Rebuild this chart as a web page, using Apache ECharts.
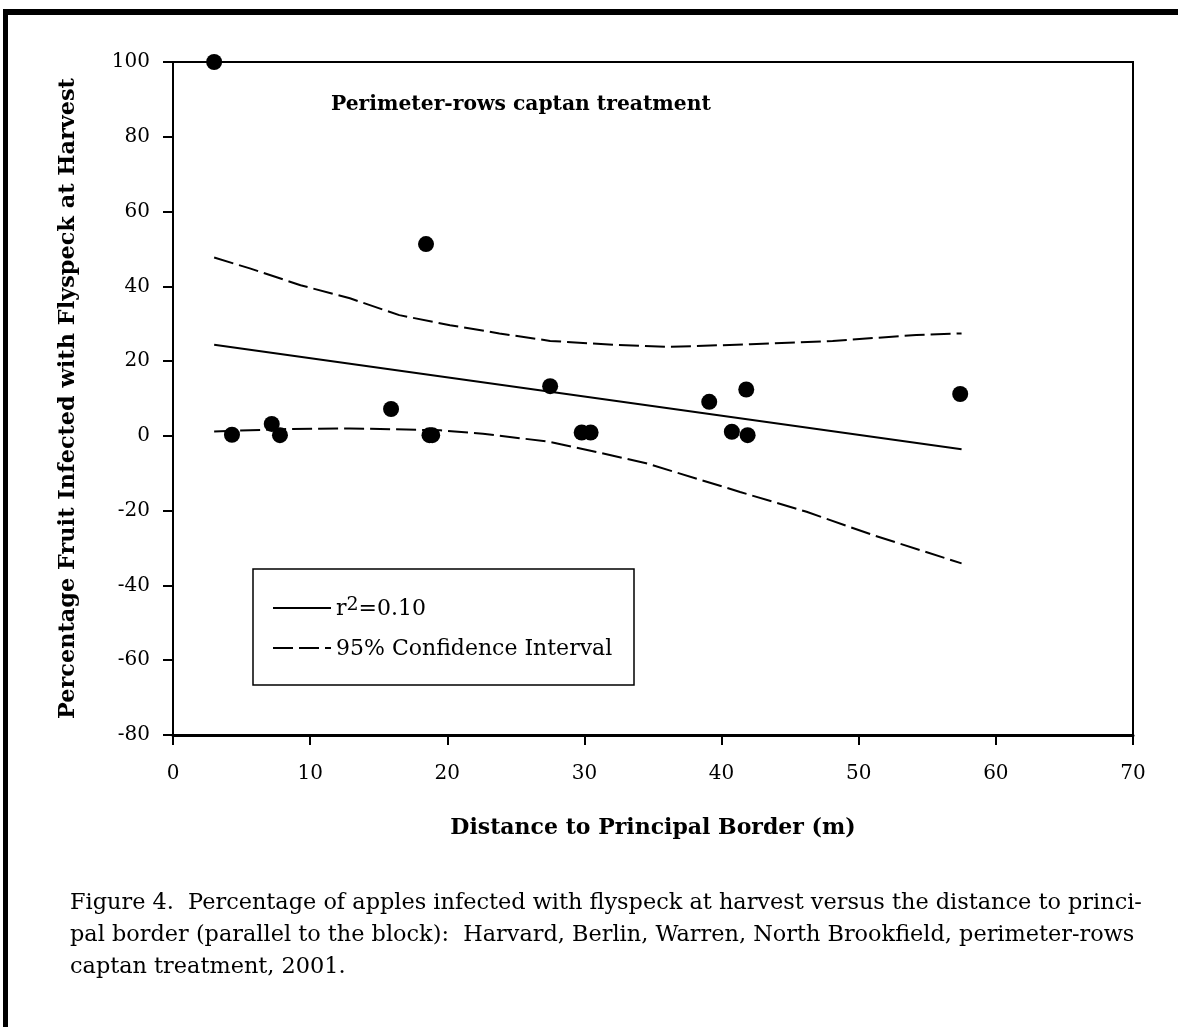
<!DOCTYPE html>
<html>
<head>
<meta charset="utf-8">
<script src="https://cdn.jsdelivr.net/npm/echarts@6/dist/echarts.min.js"></script>
<style>
html,body{margin:0;padding:0;background:#fff;}
#chart{width:1178px;height:1027px;}
</style>
</head>
<body>
<div id="chart"></div>
<script>
// ---- data ----
const distance = [3.0, 4.3, 7.2, 7.8, 15.9, 18.45, 18.7, 18.9, 27.5, 29.8, 30.45, 39.1, 40.75, 41.8, 41.9, 57.4];
const infected = [100, 0.3, 3.2, 0.2, 7.2, 51.3, 0.2, 0.2, 13.3, 0.9, 0.9, 9.1, 1.1, 12.4, 0.2, 11.2];
const regressionX = [3.0, 57.5];
const regressionY = [24.4, -3.6];
const upperX = [3.0, 5.6, 9.3, 12.9, 16.5, 20.2, 23.8, 27.5, 32.4, 36.0, 42.1, 48.1, 54.2, 57.5];
const upperY = [47.7, 44.8, 40.3, 36.8, 32.3, 29.6, 27.4, 25.4, 24.3, 23.8, 24.5, 25.4, 27.0, 27.4];
const lowerX = [3.0, 8.0, 12.9, 19.5, 22.6, 27.5, 31.1, 34.5, 41.35, 46.2, 51.1, 57.5];
const lowerY = [1.2, 1.8, 2.0, 1.5, 0.6, -1.6, -4.5, -7.3, -15.0, -20.3, -26.6, -34.1];
const xTicks = [0, 10, 20, 30, 40, 50, 60, 70];
const yTicks = [-80, -60, -40, -20, 0, 20, 40, 60, 80, 100];
const panelTitle = 'Perimeter-rows captan treatment';
const xTitle = 'Distance to Principal Border (m)';
const yTitle = 'Percentage Fruit Infected with Flyspeck at Harvest';
const legendFit = 'r2=0.10';
const legendCI = '95% Confidence Interval';
const captionLines = [
  'Figure 4.  Percentage of apples infected with flyspeck at harvest versus the distance to princi-',
  'pal border (parallel to the block):  Harvard, Berlin, Warren, North Brookfield, perimeter-rows',
  'captan treatment, 2001.'
];

const zip = (xs, ys) => xs.map((x, i) => [x, ys[i]]);
const FONT = '"DejaVu Serif", "Liberation Serif", serif';

const chart = echarts.init(document.getElementById('chart'), null, {renderer: 'canvas'});
chart.setOption({
  backgroundColor: '#fff',
  animation: false,
  color: ['#000'],
  textStyle: {fontFamily: FONT, color: '#000'},
  title: {
    text: panelTitle, left: 331, top: 95, padding: 0,
    textStyle: {fontFamily: FONT, fontWeight: 'bold', fontSize: 20.3, color: '#000'}
  },
  grid: {left: 173, top: 62, right: 45, bottom: 292, show: true, borderColor: '#000', borderWidth: 2, backgroundColor: 'transparent'},
  xAxis: {
    type: 'value', min: xTicks[0], max: xTicks[xTicks.length - 1], interval: 10,
    name: xTitle, nameLocation: 'middle', nameGap: 82,
    nameTextStyle: {fontFamily: FONT, fontWeight: 'bold', fontSize: 22, color: '#000'},
    axisLine: {show: true, onZero: false, lineStyle: {color: '#000', width: 3}},
    axisTick: {show: true, inside: false, length: 10, lineStyle: {color: '#000', width: 2}},
    axisLabel: {fontFamily: FONT, fontSize: 20, color: '#000', margin: 29},
    splitLine: {show: false}
  },
  yAxis: {
    type: 'value', min: yTicks[0], max: yTicks[yTicks.length - 1], interval: 20,
    name: yTitle, nameLocation: 'middle', nameGap: 94, nameRotate: 90,
    nameTextStyle: {fontFamily: FONT, fontWeight: 'bold', fontSize: 22.4, color: '#000'},
    axisLine: {show: true, onZero: false, lineStyle: {color: '#000', width: 2}},
    axisTick: {show: true, inside: false, length: 10, lineStyle: {color: '#000', width: 2}},
    axisLabel: {fontFamily: FONT, fontSize: 20, color: '#000', margin: 23},
    splitLine: {show: false}
  },
  legend: {
    data: [legendFit, legendCI],
    orient: 'vertical', left: 272, top: 596,
    itemWidth: 58, itemHeight: 14, itemGap: 11,
    padding: 0,
    itemStyle: {opacity: 0},
    formatter: function (name) {
      if (name === legendFit) return '{t|r}{s|2}{t|=0.10}';
      return '{t|' + name + '}';
    },
    textStyle: {
      fontFamily: FONT, fontSize: 22, color: '#000',
      rich: {
        t: {fontFamily: FONT, fontSize: 22, color: '#000', lineHeight: 24, verticalAlign: 'bottom'},
        s: {fontFamily: FONT, fontSize: 19, color: '#000', lineHeight: 24, verticalAlign: 'top', padding: [0, 0, 12, 0]}
      }
    }
  },
  graphic: [
    {type: 'rect', shape: {x: 3, y: 9, width: 1175, height: 6}, style: {fill: '#000'}},
    {type: 'rect', shape: {x: 3, y: 9, width: 5, height: 1018}, style: {fill: '#000'}},
    {type: 'rect', shape: {x: 253, y: 569, width: 381, height: 116}, style: {fill: 'none', stroke: '#000', lineWidth: 1.5}},
    {type: 'text', left: 70, top: 887,
      style: {text: captionLines.join('\n'), font: '22.4px ' + FONT, fill: '#000', lineHeight: 32}}
  ],
  series: [
    {
      type: 'scatter', name: 'data', data: zip(distance, infected),
      symbol: 'circle', symbolSize: 16, clip: false,
      itemStyle: {color: '#000', opacity: 1}, z: 5
    },
    {
      type: 'line', name: legendFit, data: zip(regressionX, regressionY),
      symbol: 'none', itemStyle: {color: '#000'}, lineStyle: {color: '#000', width: 2}
    },
    {
      type: 'line', name: legendCI, data: zip(upperX, upperY),
      symbol: 'none', smooth: false, itemStyle: {color: '#000'}, lineStyle: {color: '#000', width: 2, type: [20, 6]}
    },
    {
      type: 'line', name: legendCI, data: zip(lowerX, lowerY),
      symbol: 'none', smooth: false, itemStyle: {color: '#000'}, lineStyle: {color: '#000', width: 2, type: [20, 6]}
    }
  ]
});
</script>
</body>
</html>
